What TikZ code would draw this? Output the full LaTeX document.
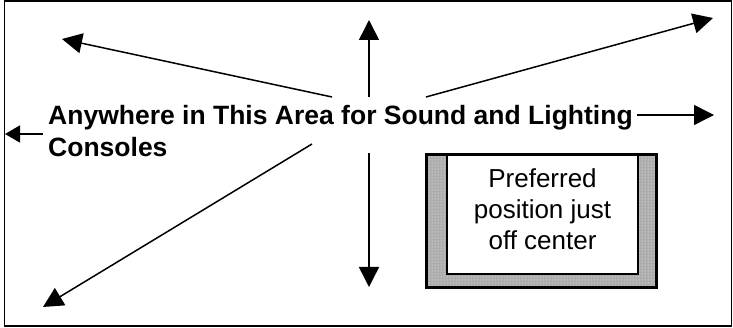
\documentclass[tikz,border=0pt]{standalone}
\usepackage{fontspec}
\setmainfont{Liberation Sans}
\usetikzlibrary{arrows.meta,patterns}
\begin{document}
\begin{tikzpicture}[x=1pt,y=-1pt,
  arr/.style={line width=1.5pt,-{Triangle[length=20pt,width=20pt]}},
  smallarr/.style={line width=1.5pt,-{Triangle[length=15pt,width=17pt]}},
  frame/.style={line width=1.5pt},
  labeltext/.style={font=\fontsize{26.5}{32}\selectfont\bfseries,align=left,inner sep=0pt},
  boxtext/.style={font=\fontsize{26}{31}\selectfont,align=center,inner sep=0pt}]
\useasboundingbox (0,0) rectangle (733,328);
\draw[frame] (4.5,1.2) rectangle (731.5,326);
% preferred position box
\fill[gray!65] (425,153) rectangle (658,289);
\fill[pattern=dots,pattern color=white] (425,153) rectangle (658,289);
\draw[line width=3pt] (426.5,154.5) rectangle (656.5,287.5);
\draw[line width=1.5pt,fill=white] (447,155) rectangle (638,274);
\node[boxtext] (pref) at (542.5,209.5) {Preferred\\position just\\off center};
% main label
\node[labeltext,anchor=base west] (area) at (48,157) {Anywhere in This Area for Sound and Lighting\\Consoles};
% arrows
\coordinate (ulS) at (332,97);  \coordinate (ulT) at (62,39);
\coordinate (upS) at (369,97);  \coordinate (upT) at (369,20);
\coordinate (urS) at (426,97);  \coordinate (urT) at (713,18);
\coordinate (rS) at (637,115);  \coordinate (rT) at (714,115);
\coordinate (lS) at (43,134);   \coordinate (lT) at (5,134);
\coordinate (dlS) at (312,144); \coordinate (dlT) at (43,307);
\coordinate (dS) at (369,153);  \coordinate (dT) at (369,287);
\draw[arr] (ulS) -- (ulT);
\draw[arr] (upS) -- (upT);
\draw[arr] (urS) -- (urT);
\draw[arr] (rS) -- (rT);
\draw[smallarr] (lS) -- (lT);
\draw[arr] (dlS) -- (dlT);
\draw[arr] (dS) -- (dT);
\end{tikzpicture}
\end{document}
